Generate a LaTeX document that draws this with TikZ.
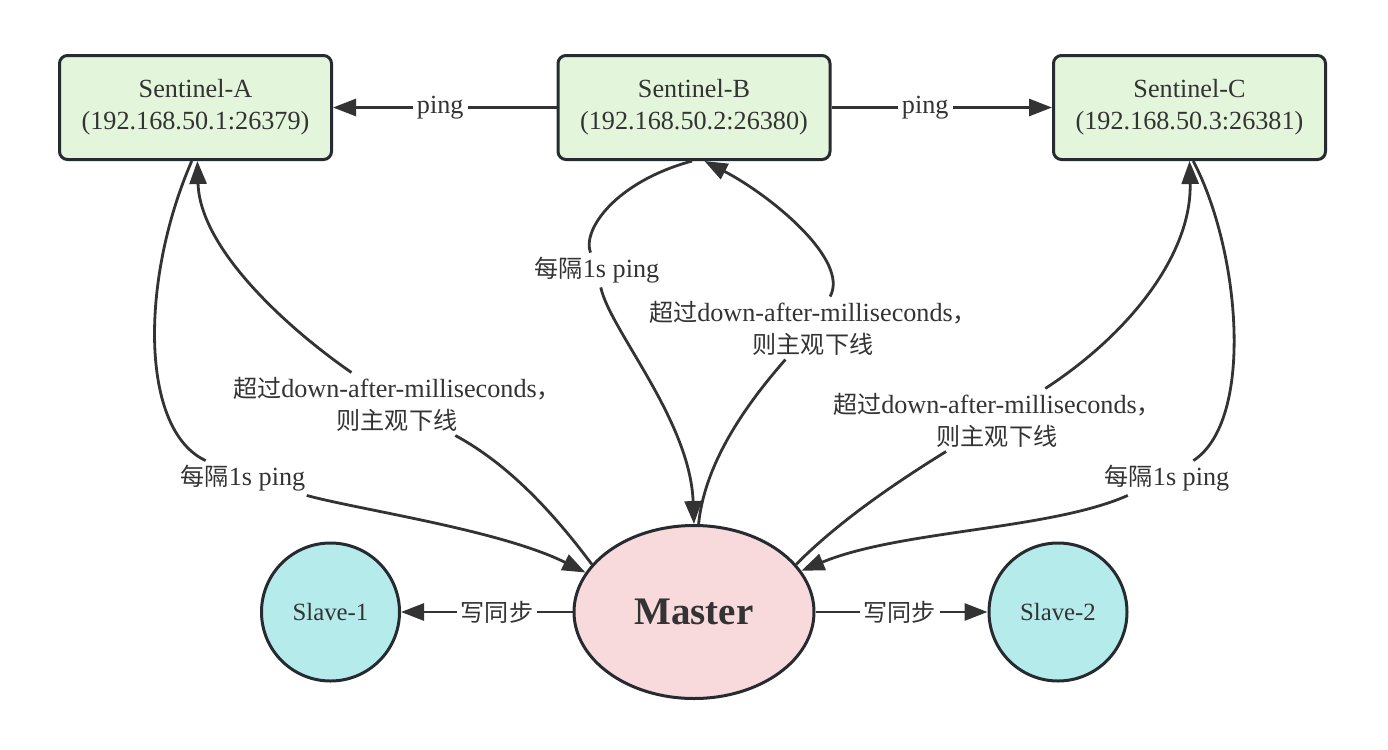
\documentclass[tikz,border=0pt]{standalone}
\usepackage{fontspec}
\usepackage{tikz}
\usetikzlibrary{arrows.meta,shapes.geometric}
\setmainfont{Liberation Serif}
\newfontfamily\cjk{Noto Sans CJK SC}[Scale=0.92]
\definecolor{ink}{HTML}{333333}
\definecolor{edge}{HTML}{262B30}
\definecolor{sentfill}{HTML}{E3F5DA}
\definecolor{masterfill}{HTML}{F8DADD}
\definecolor{slavefill}{HTML}{B6EBEC}

\begin{document}
\begin{tikzpicture}[x=0.5pt,y=-0.5pt,font=\fontsize{13.1}{16}\selectfont,text=ink,
sentinel/.style={rectangle,rounded corners=4pt,draw=edge,fill=sentfill,line width=1.5pt,minimum width=136pt,minimum height=52pt,align=center},
master/.style={ellipse,draw=edge,fill=masterfill,line width=1.5pt,minimum width=120pt,minimum height=86.5pt,font=\fontsize{19.5}{22}\selectfont\bfseries},
slave/.style={circle,draw=edge,fill=slavefill,line width=1.5pt,minimum size=69pt,font=\fontsize{12.4}{15}\selectfont},
link/.style={-{Triangle[length=11.5pt,width=8.5pt]},line width=1.4pt,draw=ink},
tag/.style={fill=white,inner sep=2pt,align=center}]
\useasboundingbox (0,0) rectangle (1388,750);
\node[sentinel] (sa) at (195.5,107.5) {Sentinel-A\\(192.168.50.1:26379)};
\node[sentinel] (sb) at (694,107.5) {Sentinel-B\\(192.168.50.2:26380)};
\node[sentinel] (sc) at (1189.5,107.5) {Sentinel-C\\(192.168.50.3:26381)};
\node[master] (ms) at (694,612) {Master};
\node[slave] (s1) at (330.5,612) {Slave-1};
\node[slave] (s2) at (1058,612) {Slave-2};
\foreach \a/\b/\p/\t in {sb/sa/0.52/ping,sb/sc/0.425/ping,ms/s1/0.44/{\cjk 写同步},ms/s2/0.49/{\cjk 写同步}}{\draw[link] (\a) -- node[tag,pos=\p] {\t} (\b);}
% labels sitting on the curved links
\node[tag] (pinga) at (243,478) {{\cjk 每隔}1s ping};
\node[tag] (downa) at (397,404) {{\cjk 超过}down-after-milliseconds{\cjk ，}\\{\cjk 则主观下线}};
\node[tag] (pingb) at (597,270) {{\cjk 每隔}1s ping};
\node[tag] (downb) at (813,328) {{\cjk 超过}down-after-milliseconds{\cjk ，}\\{\cjk 则主观下线}};
\node[tag] (downc) at (997,420) {{\cjk 超过}down-after-milliseconds{\cjk ，}\\{\cjk 则主观下线}};
\node[tag] (pingc) at (1167,478) {{\cjk 每隔}1s ping};
\draw[link] (sa.-94) .. controls (140,280) and (140,430) .. (pinga) .. controls (360,510) and (500,530) .. (ms.160);
\draw[link] (ms.155) .. controls (555,515) and (510,465) .. (downa) .. controls (290,330) and (200,250) .. (sa.-88);
\draw[link] (sb.-92) .. controls (615,182) and (582,230) .. (pingb) .. controls (610,330) and (690,420) .. (ms.north);
\draw[link] (ms.87) .. controls (705,460) and (750,400) .. (downb) .. controls (850,260) and (770,195) .. (sb.-79);
\draw[link] (ms.25) .. controls (840,520) and (900,480) .. (downc) .. controls (1135,330) and (1192,250) .. (sc.south);
\draw[link] (sc.-86) .. controls (1240,250) and (1255,420) .. (pingc) .. controls (1050,530) and (900,530) .. (ms.21);
\end{tikzpicture}
\end{document}
